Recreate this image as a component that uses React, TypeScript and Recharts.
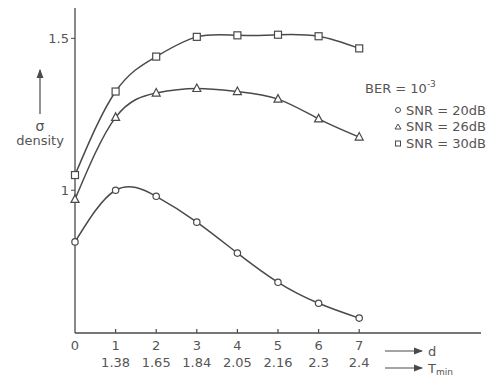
import { LineChart, Line, XAxis, YAxis } from 'recharts'

const dValues = [0, 1, 2, 3, 4, 5, 6, 7]
const tminLabels = ['', '1.38', '1.65', '1.84', '2.05', '2.16', '2.3', '2.4']
const snr20 = [0.83, 1.0, 0.98, 0.895, 0.793, 0.697, 0.628, 0.579]
const snr26 = [0.97, 1.24, 1.32, 1.335, 1.325, 1.3, 1.235, 1.175]
const snr30 = [1.05, 1.325, 1.44, 1.505, 1.51, 1.512, 1.507, 1.467]

const data = dValues.map((d, i) => ({ d, snr20: snr20[i], snr26: snr26[i], snr30: snr30[i] }))

const INK = '#4a4a4a'
const TEXT = '#555'
const FONT = '"DejaVu Sans", sans-serif'

const CircleDot = (p: any) => (
  <circle key={`c${p.index}`} cx={p.cx} cy={p.cy} r={3.2} fill="#fff" stroke={INK} strokeWidth={1.2} />
)
const TriDot = (p: any) => (
  <polygon
    key={`t${p.index}`}
    points={`${p.cx},${p.cy - 4.5} ${p.cx - 4},${p.cy + 3} ${p.cx + 4},${p.cy + 3}`}
    fill="#fff"
    stroke={INK}
    strokeWidth={1.2}
  />
)
const SquareDot = (p: any) => (
  <rect key={`s${p.index}`} x={p.cx - 3.5} y={p.cy - 3.5} width={7} height={7} fill="#fff" stroke={INK} strokeWidth={1.2} />
)

const XTick = ({ x, y, payload }: any) => {
  const i = dValues.indexOf(payload.value)
  return (
    <g>
      {payload.value > 0 && <line x1={x} x2={x} y1={y} y2={y - 4} stroke={INK} strokeWidth={1.2} />}
      <text x={x} y={y + 17} textAnchor="middle" fontSize={13} fill={TEXT} fontFamily={FONT}>{payload.value}</text>
      <text x={x} y={y + 34} textAnchor="middle" fontSize={13} fill={TEXT} fontFamily={FONT}>{tminLabels[i]}</text>
    </g>
  )
}

export default function App() {
  return (
    <div style={{ position: 'absolute', left: 0, top: 0, width: 495, height: 377, background: '#fff' }}>
      <LineChart width={495} height={377} data={data} margin={{ top: 8, right: 14, bottom: 0, left: 35 }}>
        <XAxis
          dataKey="d"
          type="number"
          domain={[0, 10]}
          ticks={dValues}
          height={44}
          tickSize={0}
          tickMargin={0}
          tickLine={false}
          tick={<XTick />}
          axisLine={{ stroke: INK, strokeWidth: 1.3 }}
          interval={0}
        />
        <YAxis
          type="number"
          domain={[0.53, 1.6]}
          ticks={[1, 1.5]}
          width={40}
          tickSize={4}
          tickMargin={2}
          allowDataOverflow
          axisLine={{ stroke: INK, strokeWidth: 1.3 }}
          tickLine={{ stroke: INK }}
          tick={{ fontSize: 13, fill: TEXT, fontFamily: FONT }}
        />
        <Line type="natural" dataKey="snr20" stroke={INK} strokeWidth={1.5} dot={CircleDot} isAnimationActive={false} />
        <Line type="natural" dataKey="snr26" stroke={INK} strokeWidth={1.5} dot={TriDot} isAnimationActive={false} />
        <Line type="natural" dataKey="snr30" stroke={INK} strokeWidth={1.5} dot={SquareDot} isAnimationActive={false} />
      </LineChart>
      <svg width={495} height={377} style={{ position: 'absolute', left: 0, top: 0, pointerEvents: 'none' }}>
        <defs>
          <marker id="ah" viewBox="0 0 8 8" refX="7" refY="4" markerWidth="8" markerHeight="8" orient="auto">
            <path d="M0,1 L8,4 L0,7 Z" fill={INK} />
          </marker>
        </defs>
        {/* y label */}
        <line x1={40} y1={114} x2={40} y2={70} stroke={INK} strokeWidth={1.2} markerEnd="url(#ah)" />
        <text x={40} y={131} textAnchor="middle" fontSize={14} fill={TEXT} fontFamily={FONT}>σ</text>
        <text x={40} y={145} textAnchor="middle" fontSize={13} fill={TEXT} fontFamily={FONT}>density</text>
        {/* x labels */}
        <line x1={385} y1={351} x2={422} y2={351} stroke={INK} strokeWidth={1.2} markerEnd="url(#ah)" />
        <text x={428} y={356} fontSize={13} fill={TEXT} fontFamily={FONT}>d</text>
        <line x1={385} y1={368} x2={422} y2={368} stroke={INK} strokeWidth={1.2} markerEnd="url(#ah)" />
        <text x={428} y={373} fontSize={13} fill={TEXT} fontFamily={FONT}>
          T<tspan fontSize={9} dy={2}>min</tspan>
        </text>
        {/* legend */}
        <text x={365} y={93} fontSize={13} fill={TEXT} fontFamily={FONT}>
          BER = 10<tspan fontSize={9} dy={-6}>-3</tspan>
        </text>
        <circle cx={398} cy={110} r={2.5} fill="#fff" stroke={INK} />
        <text x={406} y={115} fontSize={13} fill={TEXT} fontFamily={FONT}>SNR = 20dB</text>
        <polygon points="398,124 395,129 401,129" fill="#fff" stroke={INK} />
        <text x={406} y={131} fontSize={13} fill={TEXT} fontFamily={FONT}>SNR = 26dB</text>
        <rect x={395.5} y={141} width={5} height={5} fill="#fff" stroke={INK} />
        <text x={406} y={148} fontSize={13} fill={TEXT} fontFamily={FONT}>SNR = 30dB</text>
      </svg>
    </div>
  )
}
